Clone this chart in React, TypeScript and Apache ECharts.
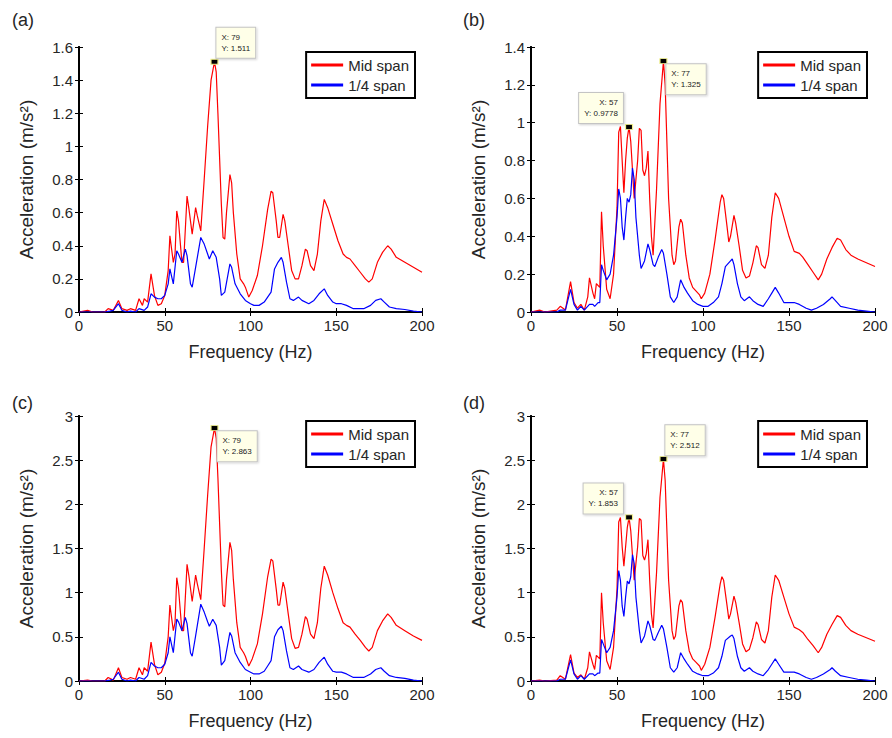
import React, { useEffect, useRef } from 'react';
import * as echarts from 'echarts';

// ---------- data (frequency Hz, acceleration m/s^2) ----------
const midSpanA = [
  [0, 0], [5, 0.01], [8, 0], [15, 0], [17, 0.02], [20, 0.01], [23, 0.07], [25, 0.02], [28, 0.01], [30, 0.02],
  [33, 0.01], [35, 0.08], [37, 0.04], [38, 0.08], [40, 0.06], [42, 0.23], [44, 0.1], [46, 0.04], [48, 0.05],
  [50, 0.1], [52, 0.25], [53, 0.46], [55, 0.3], [56, 0.35], [57, 0.61], [58, 0.55], [60, 0.3], [61, 0.3],
  [63, 0.7], [64, 0.63], [66, 0.47], [68, 0.63], [69, 0.58], [71, 0.49], [73, 0.8], [75, 1.12], [77, 1.4],
  [79, 1.511], [80, 1.45], [81, 1.2], [83, 0.65], [84, 0.45], [85, 0.44], [86, 0.6], [88, 0.83], [89, 0.78],
  [90, 0.6], [92, 0.35], [94, 0.2], [96, 0.17], [97, 0.15], [99, 0.09], [101, 0.13], [104, 0.22], [107, 0.4],
  [110, 0.62], [112, 0.73], [113, 0.72], [115, 0.55], [116, 0.45], [117, 0.45], [119, 0.59], [120, 0.55],
  [122, 0.4], [124, 0.25], [126, 0.2], [128, 0.2], [130, 0.28], [132, 0.38], [133, 0.37], [135, 0.28],
  [137, 0.25], [139, 0.35], [141, 0.55], [143, 0.68], [145, 0.63], [148, 0.53], [151, 0.43], [154, 0.35],
  [156, 0.33], [158, 0.32], [161, 0.28], [164, 0.24], [167, 0.2], [169, 0.18], [171, 0.2], [174, 0.3],
  [177, 0.36], [180, 0.4], [182, 0.38], [185, 0.33], [190, 0.3], [195, 0.27], [200, 0.24],
];
const quarterSpanA = [
  [0, 0], [15, 0], [18, 0.005], [20, 0.01], [23, 0.05], [25, 0.01], [28, 0], [30, 0.005], [33, 0], [35, 0.02],
  [38, 0.01], [40, 0.03], [42, 0.11], [44, 0.09], [46, 0.08], [48, 0.08], [50, 0.1], [52, 0.17], [53, 0.26],
  [55, 0.17], [57, 0.37], [58, 0.35], [60, 0.3], [62, 0.38], [63, 0.34], [65, 0.17], [66, 0.15], [68, 0.27],
  [71, 0.45], [73, 0.41], [75, 0.35], [76, 0.32], [78, 0.37], [80, 0.33], [82, 0.2], [83, 0.1], [85, 0.12],
  [88, 0.29], [89, 0.27], [91, 0.17], [94, 0.11], [97, 0.07], [100, 0.05], [102, 0.04], [105, 0.04],
  [108, 0.06], [110, 0.09], [112, 0.12], [114, 0.26], [116, 0.3], [118, 0.33], [119, 0.3], [121, 0.18],
  [123, 0.08], [125, 0.07], [128, 0.09], [130, 0.07], [134, 0.05], [137, 0.07], [140, 0.11], [143, 0.14],
  [145, 0.1], [148, 0.06], [150, 0.05], [153, 0.05], [156, 0.04], [160, 0.02], [163, 0.02], [166, 0.02],
  [170, 0.04], [173, 0.07], [176, 0.08], [178, 0.06], [181, 0.03], [185, 0.02], [190, 0.015], [195, 0.005], [200, 0],
];
const midSpanB = [
  [0, 0], [5, 0.01], [8, 0], [15, 0.01], [17, 0.03], [20, 0.01], [23, 0.16], [25, 0.05], [27, 0.02], [29, 0.04],
  [31, 0.01], [33, 0.08], [34, 0.18], [36, 0.1], [37, 0.07], [38, 0.15], [40, 0.13], [41, 0.53], [42, 0.35],
  [44, 0.12], [46, 0.07], [48, 0.2], [50, 0.55], [51, 0.95], [52, 0.98], [53, 0.8], [54, 0.63], [55, 0.8],
  [56, 0.92], [57, 0.9778], [58, 0.9], [59, 0.75], [60, 0.6], [62, 0.8], [63, 0.97], [64, 0.96], [65, 0.75],
  [66, 0.72], [67, 0.76], [68, 0.85], [69, 0.6], [70, 0.4], [71, 0.3], [73, 0.65], [75, 1.1], [77, 1.325],
  [78, 1.2], [80, 0.6], [82, 0.3], [83, 0.25], [84, 0.27], [86, 0.45], [87, 0.49], [88, 0.47], [90, 0.3],
  [92, 0.18], [94, 0.13], [96, 0.11], [98, 0.09], [99, 0.07], [101, 0.1], [104, 0.2], [107, 0.38], [110, 0.58],
  [111, 0.62], [112, 0.6], [114, 0.45], [115, 0.37], [116, 0.4], [118, 0.51], [119, 0.47], [121, 0.35],
  [123, 0.22], [125, 0.18], [127, 0.19], [129, 0.26], [131, 0.35], [132, 0.34], [134, 0.25], [136, 0.23],
  [138, 0.3], [140, 0.5], [142, 0.63], [144, 0.6], [147, 0.5], [150, 0.4], [153, 0.32], [156, 0.31],
  [158, 0.29], [161, 0.25], [164, 0.21], [167, 0.17], [169, 0.2], [172, 0.28], [175, 0.34], [178, 0.39],
  [180, 0.38], [183, 0.33], [186, 0.3], [190, 0.28], [195, 0.26], [200, 0.24],
];
const quarterSpanB = [
  [0, 0], [15, 0], [17, 0.01], [20, 0.01], [23, 0.12], [25, 0.04], [27, 0.01], [29, 0.03], [31, 0.01], [34, 0.04],
  [36, 0.04], [37, 0.03], [39, 0.05], [40, 0.05], [41, 0.25], [42, 0.22], [44, 0.17], [46, 0.2], [48, 0.3],
  [50, 0.5], [51, 0.65], [52, 0.6], [53, 0.45], [54, 0.38], [55, 0.5], [56, 0.6], [57, 0.58], [58, 0.62],
  [59, 0.76], [60, 0.7], [61, 0.5], [63, 0.3], [64, 0.23], [66, 0.27], [68, 0.36], [69, 0.33], [71, 0.25],
  [72, 0.24], [74, 0.29], [76, 0.33], [77, 0.31], [79, 0.2], [81, 0.08], [83, 0.05], [85, 0.08], [87, 0.17],
  [89, 0.13], [91, 0.1], [94, 0.06], [97, 0.04], [100, 0.03], [103, 0.03], [106, 0.05], [109, 0.08],
  [111, 0.15], [113, 0.24], [116, 0.27], [117, 0.28], [118, 0.25], [120, 0.15], [122, 0.08], [124, 0.06],
  [127, 0.08], [129, 0.06], [132, 0.04], [135, 0.03], [138, 0.07], [140, 0.1], [142, 0.13], [144, 0.1],
  [147, 0.05], [150, 0.05], [153, 0.05], [156, 0.04], [160, 0.02], [163, 0.01], [166, 0.02], [170, 0.04],
  [174, 0.07], [175, 0.08], [177, 0.06], [180, 0.03], [185, 0.02], [190, 0.01], [195, 0.005], [200, 0],
];
const midSpanC = [
  [0, 0], [5, 0.01], [8, 0], [15, 0], [17, 0.04], [20, 0.01], [23, 0.15], [25, 0.04], [28, 0.02], [30, 0.04],
  [33, 0.02], [35, 0.15], [37, 0.07], [38, 0.15], [40, 0.11], [42, 0.44], [44, 0.19], [46, 0.07], [48, 0.1],
  [50, 0.2], [52, 0.5], [53, 0.86], [55, 0.57], [56, 0.66], [57, 1.17], [58, 1.05], [60, 0.57], [61, 0.57],
  [63, 1.32], [64, 1.2], [66, 0.9], [68, 1.2], [69, 1.1], [71, 0.92], [73, 1.5], [75, 2.1], [77, 2.65],
  [79, 2.863], [80, 2.75], [81, 2.3], [83, 1.25], [84, 0.86], [85, 0.84], [86, 1.15], [88, 1.57], [89, 1.48],
  [90, 1.15], [92, 0.66], [94, 0.38], [96, 0.32], [97, 0.28], [99, 0.17], [101, 0.25], [104, 0.42], [107, 0.76],
  [110, 1.18], [112, 1.38], [113, 1.36], [115, 1.04], [116, 0.86], [117, 0.86], [119, 1.12], [120, 1.05],
  [122, 0.76], [124, 0.48], [126, 0.37], [128, 0.38], [130, 0.53], [132, 0.73], [133, 0.7], [135, 0.53],
  [137, 0.48], [139, 0.66], [141, 1.05], [143, 1.3], [145, 1.2], [148, 1.0], [151, 0.82], [154, 0.66],
  [156, 0.63], [158, 0.61], [161, 0.53], [164, 0.46], [167, 0.38], [169, 0.34], [171, 0.38], [174, 0.57],
  [177, 0.68], [180, 0.76], [182, 0.72], [185, 0.63], [190, 0.57], [195, 0.51], [200, 0.46],
];
const quarterSpanC = [
  [0, 0], [15, 0], [18, 0.01], [20, 0.02], [23, 0.1], [25, 0.02], [28, 0], [30, 0.01], [33, 0], [35, 0.04],
  [38, 0.02], [40, 0.06], [42, 0.21], [44, 0.17], [46, 0.15], [48, 0.15], [50, 0.19], [52, 0.32], [53, 0.5],
  [55, 0.32], [57, 0.7], [58, 0.67], [60, 0.57], [62, 0.72], [63, 0.65], [65, 0.32], [66, 0.28], [68, 0.51],
  [71, 0.87], [73, 0.78], [75, 0.67], [76, 0.62], [78, 0.7], [80, 0.63], [82, 0.38], [83, 0.18], [85, 0.23],
  [88, 0.55], [89, 0.51], [91, 0.32], [94, 0.21], [97, 0.13], [100, 0.1], [102, 0.08], [105, 0.08],
  [108, 0.11], [110, 0.17], [112, 0.23], [114, 0.5], [116, 0.58], [118, 0.62], [119, 0.57], [121, 0.34],
  [123, 0.15], [125, 0.13], [128, 0.17], [130, 0.13], [134, 0.1], [137, 0.13], [140, 0.21], [143, 0.27],
  [145, 0.19], [148, 0.11], [150, 0.1], [153, 0.1], [156, 0.08], [160, 0.04], [163, 0.04], [166, 0.04],
  [170, 0.08], [173, 0.13], [176, 0.15], [178, 0.11], [181, 0.06], [185, 0.04], [190, 0.03], [195, 0.01], [200, 0],
];
const midSpanD = [
  [0, 0], [5, 0.01], [8, 0], [15, 0.01], [17, 0.06], [20, 0.02], [23, 0.3], [25, 0.09], [27, 0.04], [29, 0.07],
  [31, 0.02], [33, 0.15], [34, 0.33], [36, 0.19], [37, 0.13], [38, 0.29], [40, 0.25], [41, 1.0], [42, 0.66],
  [44, 0.23], [46, 0.13], [48, 0.38], [50, 1.04], [51, 1.8], [52, 1.85], [53, 1.52], [54, 1.3], [55, 1.52],
  [56, 1.74], [57, 1.853], [58, 1.7], [59, 1.42], [60, 1.14], [62, 1.52], [63, 1.84], [64, 1.82], [65, 1.42],
  [66, 1.37], [67, 1.44], [68, 1.6], [69, 1.14], [70, 0.76], [71, 0.6], [73, 1.23], [75, 2.08], [77, 2.512],
  [78, 2.27], [80, 1.14], [82, 0.57], [83, 0.47], [84, 0.51], [86, 0.85], [87, 0.92], [88, 0.89], [90, 0.57],
  [92, 0.34], [94, 0.25], [96, 0.21], [98, 0.17], [99, 0.12], [101, 0.19], [104, 0.38], [107, 0.72], [110, 1.1],
  [111, 1.18], [112, 1.14], [114, 0.85], [115, 0.7], [116, 0.76], [118, 0.96], [119, 0.89], [121, 0.66],
  [123, 0.42], [125, 0.33], [127, 0.36], [129, 0.49], [131, 0.67], [132, 0.64], [134, 0.47], [136, 0.43],
  [138, 0.57], [140, 0.95], [142, 1.2], [144, 1.14], [147, 0.95], [150, 0.76], [153, 0.61], [156, 0.58],
  [158, 0.55], [161, 0.47], [164, 0.4], [167, 0.32], [169, 0.38], [172, 0.53], [175, 0.64], [178, 0.74],
  [180, 0.72], [183, 0.63], [186, 0.57], [190, 0.53], [195, 0.49], [200, 0.45],
];
const quarterSpanD = [
  [0, 0], [15, 0], [17, 0.02], [20, 0.02], [23, 0.24], [25, 0.08], [27, 0.02], [29, 0.06], [31, 0.02], [34, 0.08],
  [36, 0.08], [37, 0.06], [39, 0.09], [40, 0.09], [41, 0.47], [42, 0.42], [44, 0.32], [46, 0.38], [48, 0.57],
  [50, 0.95], [51, 1.25], [52, 1.14], [53, 0.85], [54, 0.73], [55, 0.95], [56, 1.13], [57, 1.1], [58, 1.18],
  [59, 1.43], [60, 1.33], [61, 0.95], [63, 0.57], [64, 0.43], [66, 0.51], [68, 0.68], [69, 0.63], [71, 0.47],
  [72, 0.46], [74, 0.55], [76, 0.63], [77, 0.59], [79, 0.38], [81, 0.15], [83, 0.1], [85, 0.15], [87, 0.32],
  [89, 0.25], [91, 0.19], [94, 0.11], [97, 0.08], [100, 0.06], [103, 0.06], [106, 0.09], [109, 0.15],
  [111, 0.28], [113, 0.46], [116, 0.51], [117, 0.52], [118, 0.48], [120, 0.28], [122, 0.15], [124, 0.11],
  [127, 0.15], [129, 0.11], [132, 0.08], [135, 0.06], [138, 0.13], [140, 0.19], [142, 0.25], [144, 0.19],
  [147, 0.1], [150, 0.1], [153, 0.1], [156, 0.08], [160, 0.04], [163, 0.02], [166, 0.04], [170, 0.08],
  [174, 0.13], [175, 0.15], [177, 0.11], [180, 0.06], [185, 0.04], [190, 0.02], [195, 0.01], [200, 0],
];

const panelLabels = ['(a)', '(b)', '(c)', '(d)'];
const seriesNames = ['Mid span', '1/4 span'];
const xMin = 0;
const xMax = 200;
const xInterval = 50;
const yMaxes = [1.6, 1.4, 3, 3];
const yIntervals = [0.2, 0.2, 0.5, 0.5];
const dataTips = [
  [[79, 1.511]],
  [[57, 0.9778], [77, 1.325]],
  [[79, 2.863]],
  [[57, 1.853], [77, 2.512]],
];
const xTitle = 'Frequency (Hz)';
const yTitle = 'Acceleration (m/s\u00B2)';

// ---------- layout / style ----------
const FONT = '"Liberation Sans", Arial, Helvetica, sans-serif';
const TEXT = '#262626';
const grids = [
  { left: 79, top: 47, width: 343, height: 265 },
  { left: 531, top: 47, width: 344, height: 265 },
  { left: 79, top: 416, width: 343, height: 265 },
  { left: 531, top: 416, width: 344, height: 265 },
];
const labelPos = [
  { left: 12, top: 11 },
  { left: 463, top: 11 },
  { left: 12, top: 394 },
  { left: 463, top: 394 },
];
const legendPos = [
  { right: 477, top: 52 },
  { right: 25, top: 52 },
  { right: 477, top: 421 },
  { right: 25, top: 421 },
];
const tipPlacement = [['ur'], ['ul', 'dr'], ['dr'], ['ul', 'ur']];

function tipLabel(kind: string) {
  const base: any = {
    show: true,
    fontSize: 8,
    fontFamily: FONT,
    color: '#222',
    lineHeight: 11,
    backgroundColor: '#ffffe8',
    borderColor: '#c4c4c4',
    borderWidth: 1,
    padding: [4, 5, 4, 5],
    shadowColor: 'rgba(0,0,0,0.18)',
    shadowBlur: 2,
    shadowOffsetX: 1,
    shadowOffsetY: 1,
  };
  if (kind === 'ur') return { ...base, position: [6, -1], align: 'left', verticalAlign: 'bottom' };
  if (kind === 'dr') return { ...base, position: [7, 6], align: 'left', verticalAlign: 'top' };
  return { ...base, position: [-2, -1], align: 'right', verticalAlign: 'bottom' };
}

function buildOption() {
  const mids = [midSpanA, midSpanB, midSpanC, midSpanD];
  const quarters = [quarterSpanA, quarterSpanB, quarterSpanC, quarterSpanD];
  const xAxes: any[] = [];
  const yAxes: any[] = [];
  const series: any[] = [];
  grids.forEach((g, i) => {
    const tick = { show: true, inside: true, length: 4, lineStyle: { color: '#000', width: 1 } };
    const line = { show: true, lineStyle: { color: '#000', width: 2 } };
    xAxes.push({
      type: 'value', gridIndex: i, position: 'bottom', min: xMin, max: xMax, interval: xInterval,
      axisLine: line, axisTick: tick, splitLine: { show: false },
      axisLabel: { color: TEXT, fontSize: 15, fontFamily: FONT, margin: 6 },
      name: xTitle, nameLocation: 'middle', nameGap: 31,
      nameTextStyle: { color: TEXT, fontSize: 18, fontFamily: FONT },
    });
    xAxes.push({
      type: 'value', gridIndex: i, position: 'top', min: xMin, max: xMax, interval: xInterval,
      axisLine: line, axisTick: tick, splitLine: { show: false }, axisLabel: { show: false },
    });
    yAxes.push({
      type: 'value', gridIndex: i, position: 'left', min: 0, max: yMaxes[i], interval: yIntervals[i],
      axisLine: line, axisTick: tick, splitLine: { show: false },
      axisLabel: { color: TEXT, fontSize: 15, fontFamily: FONT, margin: 6 },
      name: yTitle, nameLocation: 'middle', nameGap: 43, nameRotate: 90,
      nameTextStyle: { color: TEXT, fontSize: 19, fontFamily: FONT },
    });
    yAxes.push({
      type: 'value', gridIndex: i, position: 'right', min: 0, max: yMaxes[i], interval: yIntervals[i],
      axisLine: line, axisTick: tick, splitLine: { show: false }, axisLabel: { show: false },
    });
    series.push({
      name: seriesNames[0], type: 'line', xAxisIndex: 2 * i, yAxisIndex: 2 * i,
      data: mids[i], showSymbol: false, symbol: 'none', smooth: false,
      lineStyle: { color: '#ff0000', width: 1.2 }, itemStyle: { color: '#ff0000' },
      z: 2,
      markPoint: {
        symbol: 'rect', symbolSize: [7, 5], z: 10,
        itemStyle: { color: '#000', borderColor: '#f2f28a', borderWidth: 1 },
        data: dataTips[i].map((t, j) => ({
          coord: t, value: t[1],
          label: { ...tipLabel(tipPlacement[i][j]), formatter: `X: ${t[0]}\nY: ${t[1]}` },
        })),
      },
    });
    series.push({
      name: seriesNames[1], type: 'line', xAxisIndex: 2 * i, yAxisIndex: 2 * i,
      data: quarters[i], showSymbol: false, symbol: 'none', smooth: false,
      lineStyle: { color: '#0000ff', width: 1.2 }, itemStyle: { color: '#0000ff' },
      z: 3,
    });
  });

  return {
    animation: false,
    backgroundColor: '#ffffff',
    textStyle: { fontFamily: FONT },
    title: panelLabels.map((t, i) => ({
      text: t, left: labelPos[i].left, top: labelPos[i].top, padding: 0,
      textStyle: { fontSize: 18, fontWeight: 'normal', color: TEXT, fontFamily: FONT },
    })),
    legend: legendPos.map((p) => ({
      right: p.right, top: p.top, orient: 'vertical', data: seriesNames,
      icon: 'rect', itemWidth: 32, itemHeight: 3, itemGap: 4,
      padding: [5, 6, 5, 5], borderColor: '#000', borderWidth: 2, backgroundColor: '#fff',
      selectedMode: false,
      textStyle: { fontSize: 15, color: TEXT, fontFamily: FONT, lineHeight: 16 },
    })),
    grid: grids.map((g) => ({ ...g, containLabel: false })),
    xAxis: xAxes,
    yAxis: yAxes,
    series,
  };
}

export default function App() {
  const ref = useRef<HTMLDivElement>(null);
  useEffect(() => {
    if (!ref.current) return;
    const chart = echarts.init(ref.current, undefined, { renderer: 'svg' });
    chart.setOption(buildOption() as any);
    return () => chart.dispose();
  }, []);
  return (
    <div
      ref={ref}
      style={{ position: 'absolute', left: 0, top: 0, width: 892, height: 738, background: '#fff' }}
    />
  );
}
